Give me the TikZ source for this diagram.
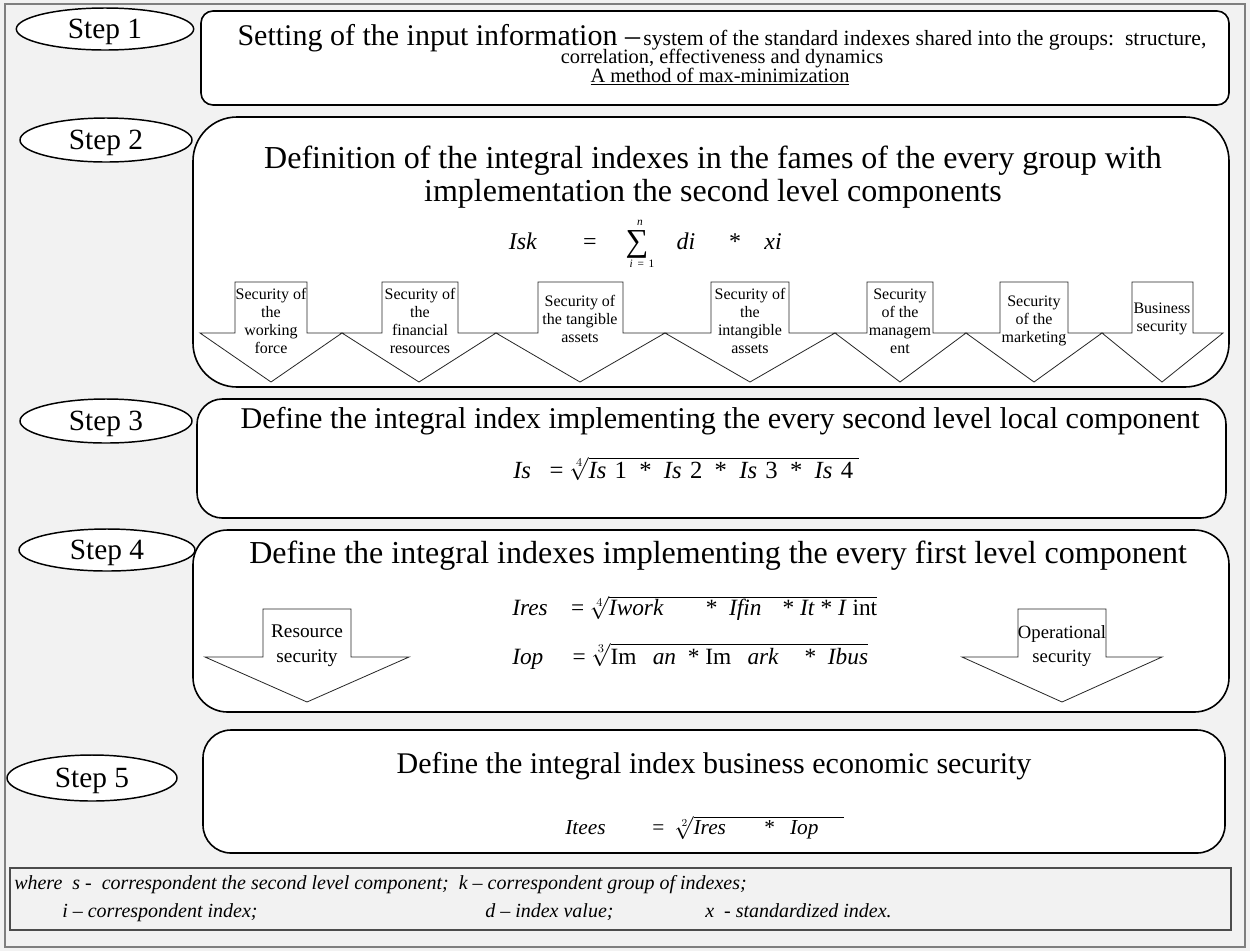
\documentclass[tikz,border=0pt]{standalone}
\usepackage{fontspec}
\setmainfont{Liberation Serif}
\usetikzlibrary{shapes.geometric}
\definecolor{bg}{HTML}{F2F2F2}
\definecolor{framegray}{HTML}{7F7F7F}
\newcommand{\bigf}{\fontsize{22.5}{24.75}\selectfont}
\newcommand{\smallf}{\fontsize{16.3}{18}\selectfont}
\newcommand{\smallerf}{\fontsize{15.3}{17}\selectfont}
\newcommand{\formf}{\fontsize{18}{20}\selectfont}
\begin{document}
\begin{tikzpicture}[x=0.75pt,y=-0.75pt,
  stepell/.style={ellipse, draw, line width=1.1pt, fill=white, inner sep=0pt,
    text depth=0pt, font=\fontsize{22}{24}\selectfont},
  stepbox/.style={draw, line width=1.2pt, fill=white, inner sep=0pt},
  arrowshape/.style={draw=black!85, line width=0.6pt, fill=white, line join=miter},
  arrowtxt/.style={align=center, inner sep=0pt, font=\fontsize{12}{13.5}\selectfont},
  bigtxt/.style={align=center, inner sep=0pt, font=\bigf},
  formtxt/.style={inner sep=0pt, font=\formf},
  legtxt/.style={inner sep=0pt, anchor=base west, font=\fontsize{15}{17}\selectfont\itshape}]
\useasboundingbox (0,0) rectangle (1250,951);
\fill[bg] (0,0) rectangle (1250,951);
\draw[framegray, line width=0.8pt] (5,4) rectangle (1245,947);

% ---------- Step 1 ----------
\node[stepell, minimum width=133pt, minimum height=31.5pt] (e1) at (105,29) {Step 1};
\node[stepbox, rounded corners=9pt, minimum width=771pt, minimum height=70.5pt] (b1) at (715,58) {};
\node[inner sep=0pt, anchor=base] (t1a) at (722,45) {{\bigf Setting of the input information –}\ {\smallf system of the standard indexes shared into the groups:\ \ structure,}};
\node[inner sep=0pt, anchor=base, font=\smallerf] (t1b) at (722,63) {correlation, effectiveness and dynamics};
\node[inner sep=0pt, anchor=base, font=\smallerf] (t1c) at (720,82) {\underline{A method of max-minimization}};

% ---------- Step 2 ----------
\node[stepell, minimum width=129pt, minimum height=33pt] (e2) at (106,140) {Step 2};
\node[stepbox, rounded corners=33pt, minimum width=777pt, minimum height=202.5pt] (b2) at (711,252) {};
\node[bigtxt, font=\fontsize{24}{25}\selectfont] (t2) at (713,177) {Definition of the integral indexes in the fames of the every group with\\implementation the second level components};
\node[formtxt, anchor=base] (f2isk) at (523,249) {\textit{Isk}};
\node[formtxt, anchor=base] (f2eq) at (590,249) {=};
\node[inner sep=0pt, anchor=base, font=\fontsize{24}{26}\selectfont] (f2sum) at (637,251) {∑};
\node[inner sep=0pt, anchor=base, font=\fontsize{8.5}{9}\selectfont\itshape] (f2n) at (640,225) {n};
\node[inner sep=0pt, anchor=base, font=\fontsize{8.5}{9}\selectfont] (f2i) at (642,267) {\textit{i}\ \,=\ \,1};
\node[formtxt, anchor=base] (f2di) at (686,249) {\textit{di}};
\node[formtxt, anchor=base] (f2st) at (735,249) {*};
\node[formtxt, anchor=base] (f2xi) at (773,249) {\textit{xi}};

% arrows of step 2
\foreach \sa/\sb/\ja/\jb/\tp [count=\k] in {
  235/307/200/342/271, 382/458/342/496/419, 538/623/496/665/580,
  711/789/665/835/750, 867/933/835/966/900, 1000/1068/966/1102/1034,
  1132/1193/1102/1223/1162}{
  \draw[arrowshape] (\sa,282) -- (\sb,282) -- (\sb,333) -- (\jb,333) -- (\tp,382)
     -- (\ja,333) -- (\sa,333) -- cycle;
}
\node[arrowtxt] (a1) at (271,321) {Security of\\the\\working\\force};
\node[arrowtxt] (a2) at (420,321) {Security of\\the\\financial\\resources};
\node[arrowtxt] (a3) at (580,319) {Security of\\the tangible\\assets};
\node[arrowtxt] (a4) at (750,321) {Security of\\the\\intangible\\assets};
\node[arrowtxt] (a5) at (900,321) {Security\\of the\\managem\\ent};
\node[arrowtxt] (a6) at (1034,321) {Security\\of the\\marketing};
\node[arrowtxt] (a7) at (1162,319) {Business\\security};

% ---------- Step 3 ----------
\node[stepell, minimum width=129pt, minimum height=33pt] (e3) at (106,421) {Step 3};
\node[stepbox, rounded corners=19pt, minimum width=771.75pt, minimum height=89.25pt] (b3) at (711.5,458.5) {};
\node[bigtxt, font=\fontsize{22.6}{25}\selectfont] (t3) at (720,421) {Define the integral index implementing the every second level local component};
\node[formtxt, anchor=base west, font=\fontsize{18.5}{20}\selectfont] (f3) at (513,478) {\textit{Is}\ \ \ =\ $\sqrt[4]{\mbox{\textit{Is}\,\,1\ \ *\ \ \textit{Is}\,\,2\ \ *\ \ \textit{Is}\,\,3\ \ *\ \ \textit{Is}\,\,4\ }}$};

% ---------- Step 4 ----------
\node[stepell, minimum width=132pt, minimum height=31.5pt] (e4) at (107,550) {Step 4};
\node[stepbox, rounded corners=26pt, minimum width=777pt, minimum height=136.5pt] (b4) at (711,621) {};
\node[bigtxt, font=\fontsize{24}{25}\selectfont] (t4) at (718,556) {Define the integral indexes implementing the every first level component};
\node[formtxt, anchor=base west, font=\fontsize{17.5}{19}\selectfont] (f4a) at (512,615) {\textit{Ires}\ \ \ \ =\ $\sqrt[4]{\mbox{\textit{Iwork}\hspace{1.8em}*\ \ \textit{Ifin}\hspace{0.9em}*\ \textit{It}\ *\ \textit{I}\ int}}$};
\node[formtxt, anchor=base west, font=\fontsize{17.5}{19}\selectfont] (f4b) at (512,664) {\textit{Iop}\ \ \ \ \ =\ $\sqrt[3]{\mbox{Im\hspace{0.7em}\textit{an}\ \ *\ Im\hspace{0.7em}\textit{ark}\hspace{1.1em}*\ \ \textit{Ibus}}}$};
\draw[arrowshape] (263,609) -- (351,609) -- (351,657) -- (409,657) -- (307,702)
   -- (205,657) -- (263,657) -- cycle;
\draw[arrowshape] (1018,609) -- (1106,609) -- (1106,657) -- (1162,657) -- (1062,702)
   -- (962,657) -- (1018,657) -- cycle;
\node[arrowtxt, font=\fontsize{14.5}{18.5}\selectfont] (r4) at (307,646) {Resource\\security};
\node[arrowtxt, font=\fontsize{14}{18.5}\selectfont] (o4) at (1062,646) {Operational\\security};

% ---------- Step 5 ----------
\node[stepell, minimum width=127.5pt, minimum height=34.5pt] (e5) at (92,778) {Step 5};
\node[stepbox, rounded corners=21pt, minimum width=766.5pt, minimum height=92.25pt] (b5) at (714,791.5) {};
\node[bigtxt] (t5) at (714,766) {Define the integral index business economic security};
\node[formtxt, anchor=base west, font=\fontsize{16}{18}\selectfont] (f5) at (565,834) {\textit{Itees}\hspace{2.2em}=\ \ $\sqrt[2]{\mbox{\textit{Ires}\hspace{1.8em}*\hspace{0.7em}\textit{Iop}\hspace{1.2em}}}$};

% ---------- Legend ----------
\node[draw=black!70, fill=bg, line width=0.8pt, minimum width=915.75pt, minimum height=46.5pt, inner sep=0pt] (leg) at (620.5,899) {};
\node[legtxt] (l1) at (14,889) {where\ \ s -\ \ correspondent the second level component;\ \ k – correspondent group of indexes;};
\node[legtxt] (l2) at (62,917) {i – correspondent index;};
\node[legtxt] (l3) at (485,917) {d – index value;};
\node[legtxt] (l4) at (705,917) {x\ \ - standardized index.};
\end{tikzpicture}
\end{document}
